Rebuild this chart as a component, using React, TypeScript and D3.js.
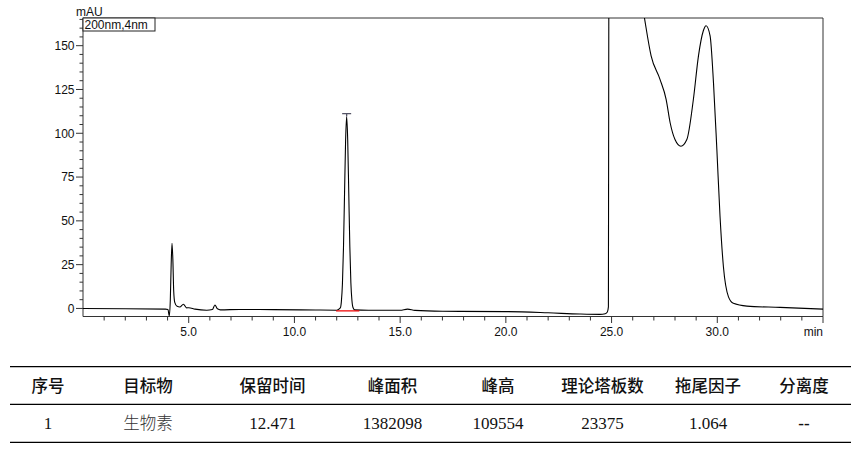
import React from "react";
import * as d3 from "d3";

// ---- chart data ----
const chromTime = [
  0.0, 2.0, 3.9, 4.02, 4.08, 4.13, 4.17, 4.21, 4.25, 4.29, 4.34, 4.45, 4.58, 4.75, 4.9, 5.0, 5.3, 5.85, 6.12, 6.24, 6.36, 6.5, 7.4, 9.0, 11.0, 12.0,
  12.17, 12.22, 12.27, 12.32, 12.37, 12.42, 12.47, 12.52, 12.57, 12.62, 12.67, 12.72, 12.77, 12.85, 13.5, 15.0, 15.35, 15.7, 17.0, 20.0, 22.0,
  23.5, 24.45, 24.7, 24.8, 24.85, 24.87, 24.95, 26.0, 26.3, 26.55, 26.87, 27.29, 27.58, 27.77, 28.0, 28.28, 28.56, 28.87, 29.11, 29.34, 29.47,
  29.66, 29.82, 29.98, 30.13, 30.29, 30.53, 30.76, 31.4, 32.97, 35.0,
];
const chromValue = [
  0.0, -0.2, -0.4, -0.6, -4.3, 5, 25, 37.2, 28, 10, 3.5, 1.2, 0.8, 2.4, 0.3, 0.4, -0.4, -1.0, -0.6, 2.0, -0.2, -0.8, -0.6, -0.7, -0.9, -1.0,
  0.3, 3.9, 13.9, 34.7, 65.5, 95.7, 109.5, 96, 66, 35.5, 14.5, 4.5, 0.5, -0.8, -1.0, -1.0, -0.4, -1.1, -1.6, -1.8, -2.5,
  -3.2, -3.4, -3.0, -2.0, 0.9, 175, 300, 300, 185, 166.2, 144.2, 130.8, 119.4, 106, 96.4, 92.6, 96.4, 119.4, 144.2, 158.5, 161.4,
  155.6, 128.9, 90.7, 52.5, 23.8, 6.6, 2.9, 1.3, 0.6, -0.4,
];
const xDomain = [0, 35];
const yDomain = [-4.6, 165.8];
const xTickLabels = [5, 10, 15, 20, 25, 30];
const yTickLabels = [0, 25, 50, 75, 100, 125, 150];
const peakRT = 12.47;
const peakHeight = 109.5;
const peakStart = 11.97;
const peakEnd = 13.07;
const peakBaseline = -1.4;
const legendText = "200nm,4nm";

const tableHeaders = ["序号", "目标物", "保留时间", "峰面积", "峰高", "理论塔板数", "拖尾因子", "分离度"];
const tableRow = ["1", "生物素", "12.471", "1382098", "109554", "23375", "1.064", "--"];

// ---- layout ----
const W = 866;
const H = 453;
const M = { left: 83, right: 823, top: 18, bottom: 316.5 };
const colCenters = [48, 148, 272.5, 392.5, 498, 602.5, 708, 804];

export default function App() {
  const x = d3.scaleLinear().domain(xDomain).range([M.left, M.right]);
  const y = d3.scaleLinear().domain(yDomain).range([M.bottom, M.top]);
  const pts: [number, number][] = chromTime.map((t, i) => [t, chromValue[i]]);
  const line = d3
    .line<[number, number]>()
    .x((d) => x(d[0]))
    .y((d) => y(d[1]))
    .curve(d3.curveMonotoneX);

  const minorX = d3.range(1, 36, 1).filter((v) => v % 5 !== 0);
  const majorX = [...xTickLabels, 35];
  const minorY = d3.range(-0, 166, 5).filter((v) => v % 25 !== 0);

  const axisColor = "#333";
  const fontAxis = "'Liberation Sans', Arial, sans-serif";
  const fontCJK = "'Noto Sans CJK SC', sans-serif";
  const fontNum = "'Liberation Serif', 'Times New Roman', serif";

  const px = x(peakRT);
  const py = y(peakHeight);

  return (
    <svg
      width={W}
      height={H}
      viewBox={`0 0 ${W} ${H}`}
      style={{ position: "absolute", left: 0, top: 0, background: "#fff" }}
    >
      <defs>
        <clipPath id="plotClip">
          <rect x={M.left} y={M.top} width={M.right - M.left} height={M.bottom - M.top} />
        </clipPath>
      </defs>
      <rect x={0} y={0} width={W} height={H} fill="#fff" />

      {/* frame */}
      <line x1={M.left} x2={M.right} y1={M.top} y2={M.top} stroke={axisColor} strokeWidth={1} />
      <line x1={M.right} x2={M.right} y1={M.top} y2={M.bottom} stroke={axisColor} strokeWidth={1} />
      <line x1={M.left} x2={M.left} y1={M.top} y2={M.bottom} stroke={axisColor} strokeWidth={1} />
      <line x1={M.left} x2={M.right} y1={M.bottom} y2={M.bottom} stroke={axisColor} strokeWidth={1} />

      {/* y ticks */}
      {minorY.map((v) => (
        <line key={"my" + v} x1={M.left - 3.5} x2={M.left} y1={y(v)} y2={y(v)} stroke={axisColor} />
      ))}
      {yTickLabels.map((v) => (
        <g key={"Y" + v}>
          <line x1={M.left - 7} x2={M.left} y1={y(v)} y2={y(v)} stroke={axisColor} />
          <text
            x={M.left - 8.5}
            y={y(v)}
            dy="0.36em"
            textAnchor="end"
            fontSize={12}
            fontFamily={fontAxis}
            fill="#111"
          >
            {v}
          </text>
        </g>
      ))}
      <text x={76} y={15.5} fontSize={12} fontFamily={fontAxis} fill="#111">
        mAU
      </text>

      {/* x ticks */}
      {minorX.map((v) => (
        <line key={"mx" + v} x1={x(v)} x2={x(v)} y1={M.bottom} y2={M.bottom + 4} stroke={axisColor} />
      ))}
      {majorX.map((v) => (
        <line key={"Mx" + v} x1={x(v)} x2={x(v)} y1={M.bottom} y2={M.bottom + 6.5} stroke={axisColor} />
      ))}
      {xTickLabels.map((v) => (
        <text
          key={"X" + v}
          x={x(v)}
          y={336}
          textAnchor="middle"
          fontSize={12}
          fontFamily={fontAxis}
          fill="#111"
        >
          {v.toFixed(1)}
        </text>
      ))}
      <text x={M.right} y={336} textAnchor="end" fontSize={12} fontFamily={fontAxis} fill="#111">
        min
      </text>

      {/* chromatogram */}
      <g clipPath="url(#plotClip)">
        <path d={line(pts) || ""} fill="none" stroke="#000" strokeWidth={1.1} />
        <line
          x1={x(peakStart)}
          x2={x(peakEnd)}
          y1={y(peakBaseline)}
          y2={y(peakBaseline)}
          stroke="#e00"
          strokeWidth={1.3}
        />
      </g>

      {/* peak marker */}
      <line x1={px - 4.5} x2={px + 4.5} y1={py - 3} y2={py - 3} stroke="#556" strokeWidth={1.3} />
      <line x1={px} x2={px} y1={py - 3} y2={py} stroke="#556" strokeWidth={1.3} />

      {/* legend box */}
      <rect x={M.left} y={M.top} width={72} height={13} fill="#fff" stroke="#222" strokeWidth={1} />
      <text x={M.left + 1.5} y={M.top + 11} fontSize={12} fontFamily={fontAxis} fill="#111">
        {legendText}
      </text>

      {/* table */}
      <line x1={10} x2={851} y1={366.7} y2={366.7} stroke="#000" strokeWidth={1.3} />
      <line x1={10} x2={851} y1={404.3} y2={404.3} stroke="#000" strokeWidth={1.3} />
      <line x1={10} x2={851} y1={442.3} y2={442.3} stroke="#000" strokeWidth={1.3} />
      {tableHeaders.map((h, i) => (
        <text
          key={"h" + i}
          x={colCenters[i]}
          y={386.5}
          dy="0.36em"
          textAnchor="middle"
          fontSize={16.5}
          fontWeight={500}
          fontFamily={fontCJK}
          fill="#111"
        >
          {h}
        </text>
      ))}
      {tableRow.map((v, i) => {
        const isCJK = /[\u4e00-\u9fff]/.test(v);
        return (
          <text
            key={"r" + i}
            x={colCenters[i]}
            y={423.5}
            dy="0.35em"
            textAnchor="middle"
            fontSize={isCJK ? 16.5 : 17}
            fontWeight={v === "--" ? 700 : isCJK ? 300 : 400}
            fontFamily={isCJK ? fontCJK : fontNum}
            fill={isCJK ? "#333" : "#111"}
          >
            {v}
          </text>
        );
      })}
    </svg>
  );
}
